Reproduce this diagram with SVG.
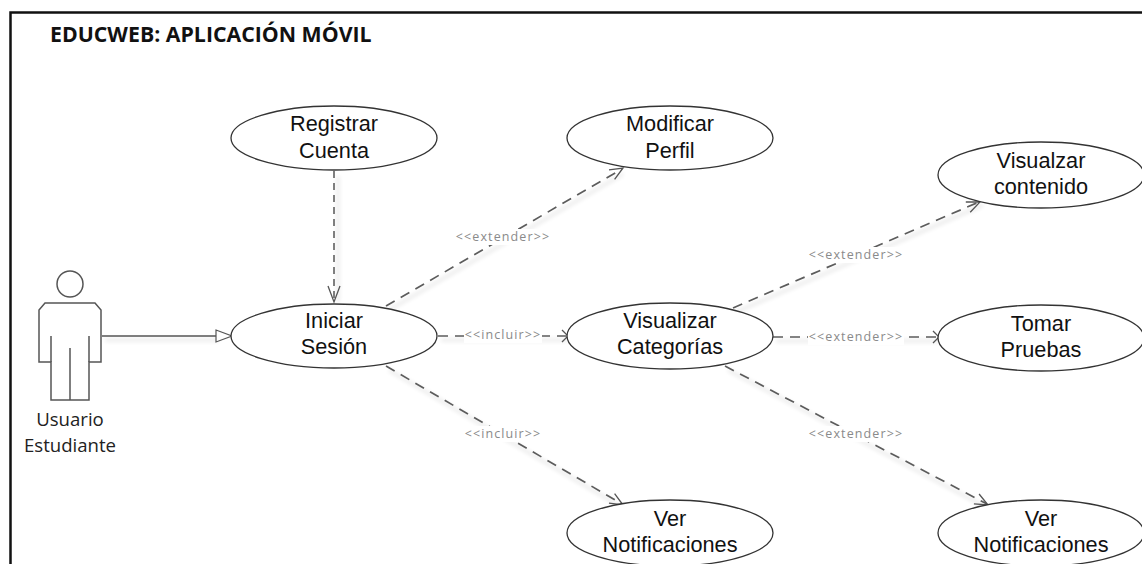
<svg xmlns="http://www.w3.org/2000/svg" width="1142" height="564" viewBox="0 0 1142 564">
<style>
.uc{fill:#fff;stroke:#333;stroke-width:1.3}
.t{font-family:"Liberation Sans",Arial,sans-serif;font-size:21.7px;fill:#111;text-anchor:middle}
.a{font-family:"Open Sans","Noto Sans",sans-serif;font-size:18.6px;fill:#222;text-anchor:middle}
.l{font-family:"Open Sans","Noto Sans",sans-serif;font-size:12.5px;fill:#8a8a8a;text-anchor:middle;letter-spacing:1.1px}
.d{fill:none;stroke:#5c5c5c;stroke-width:1.7;stroke-dasharray:10 7}
.v{fill:none;stroke:#555;stroke-width:1.5;stroke-dasharray:7 5}
.h{fill:none;stroke:#555;stroke-width:1.3}
.s{fill:none;stroke:#555;stroke-width:1.5}
.sh{fill:none;stroke:#000;stroke-width:3;opacity:.09;filter:url(#b)}
</style>
<defs><filter id="b" x="-20%" y="-20%" width="140%" height="140%"><feGaussianBlur stdDeviation="2"/></filter></defs>
<rect width="1142" height="564" fill="#fff"/>
<path d="M10.500 564V12.500H1142" fill="none" stroke="#111" stroke-width="2.500"/>
<text x="50" y="42" font-family="'Open Sans','Noto Sans',sans-serif" font-size="21.300" font-weight="700" fill="#111">EDUCWEB: APLICACIÓN MÓVIL</text>
<g id="connectors">
<g transform="translate(3 4)"><path class="sh" d="M102 336H216M335 172V298M386 306L620 170M438 336H566M386 366L620 504M733 308L980 201M773 337H938M725 366L988 506"/></g>
<path class="s" d="M102 336H216"/><path d="M216 330L232 336L216 342Z" fill="#fff" stroke="#555" stroke-width="1.200"/>
<path class="v" d="M334 171V301"/><path class="h" d="M328 286L334 302L340 286"/>
<path class="d" d="M386 306L622 169"/><path class="h" d="M609 169.800L623 168L614.600 179.300"/>
<path class="d" d="M438 336H566"/><path class="h" d="M562 330L568 336L562 342"/>
<path class="d" d="M386 366L622 504"/><path class="h" d="M614.600 493.700L623 505L609 503.100"/>
<path class="d" d="M733 308L979 202"/><path class="h" d="M965.800 202L980 202L970.200 212.200"/>
<path class="d" d="M773 337H938"/><path class="h" d="M933 331L939 337L933 343"/>
<path class="d" d="M725 366L987 504"/><path class="h" d="M979.100 494L988 505L973.900 503.800"/>
<g id="connector-labels">
<rect x="456" y="229" width="96" height="16" fill="#fff"/><text class="l" x="503" y="241">&lt;&lt;extender&gt;&gt;</text>
<rect x="464" y="327" width="78" height="16" fill="#fff"/><text class="l" x="503" y="339">&lt;&lt;incluir&gt;&gt;</text>
<rect x="464" y="426" width="78" height="16" fill="#fff"/><text class="l" x="503" y="438">&lt;&lt;incluir&gt;&gt;</text>
<rect x="808" y="247" width="96" height="16" fill="#fff"/><text class="l" x="856" y="259">&lt;&lt;extender&gt;&gt;</text>
<rect x="808" y="329" width="96" height="16" fill="#fff"/><text class="l" x="856" y="341">&lt;&lt;extender&gt;&gt;</text>
<rect x="808" y="426" width="96" height="16" fill="#fff"/><text class="l" x="856" y="438">&lt;&lt;extender&gt;&gt;</text>
</g>
</g>
<g id="actor" fill="none" stroke="#555" stroke-width="1.500">
<circle cx="70" cy="284" r="13"/>
<path d="M45 303H95L101 310V362H89V400H51V362H39V310Z" fill="#fff"/>
<path d="M51 336V362M89 336V362M70 348V400"/>
<text class="a" x="70" y="426" stroke="none">Usuario</text>
<text class="a" x="70" y="452" stroke="none">Estudiante</text>
</g>
<g id="registrar"><ellipse class="uc" cx="334" cy="138" rx="103" ry="32"/><text class="t" x="334" y="131">Registrar</text><text class="t" x="334" y="158">Cuenta</text></g>
<g id="modificar"><ellipse class="uc" cx="670" cy="138" rx="103" ry="32"/><text class="t" x="670" y="131">Modificar</text><text class="t" x="670" y="158">Perfil</text></g>
<g id="visualizar-contenido"><ellipse class="uc" cx="1041" cy="175" rx="103" ry="33"/><text class="t" x="1041" y="168">Visualzar</text><text class="t" x="1041" y="194">contenido</text></g>
<g id="iniciar"><ellipse class="uc" cx="334" cy="336" rx="103" ry="32"/><text class="t" x="334" y="328">Iniciar</text><text class="t" x="334" y="354">Sesión</text></g>
<g id="categorias"><ellipse class="uc" cx="670" cy="336" rx="103" ry="33"/><text class="t" x="670" y="328">Visualizar</text><text class="t" x="670" y="354">Categorías</text></g>
<g id="tomar"><ellipse class="uc" cx="1041" cy="338" rx="103" ry="33"/><text class="t" x="1041" y="331">Tomar</text><text class="t" x="1041" y="357">Pruebas</text></g>
<g id="notificaciones-1"><ellipse class="uc" cx="670" cy="533" rx="103" ry="33"/><text class="t" x="670" y="526">Ver</text><text class="t" x="670" y="552">Notificaciones</text></g>
<g id="notificaciones-2"><ellipse class="uc" cx="1041" cy="533" rx="103" ry="33"/><text class="t" x="1041" y="526">Ver</text><text class="t" x="1041" y="552">Notificaciones</text></g>
</svg>
